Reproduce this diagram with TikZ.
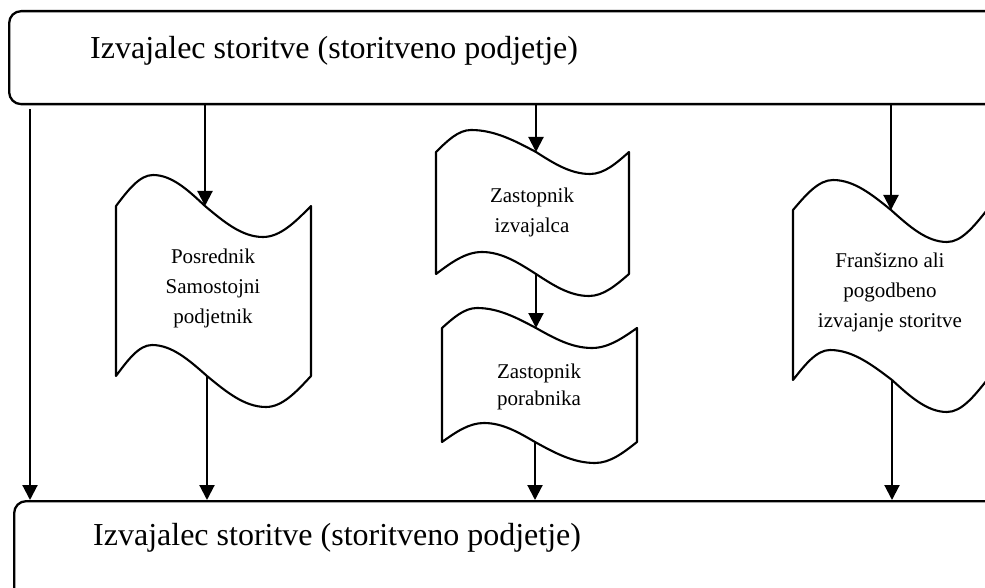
\documentclass[tikz,border=0pt]{standalone}
\usepackage{fontspec}
\setmainfont{Liberation Serif}
\usetikzlibrary{arrows.meta}
\tikzset{
  line/.style={line width=2.1pt, line join=round},
  arr/.style={line width=2.1pt, -{Triangle[length=15pt,width=15pt]}},
  bigbox/.style={draw, line width=2.3pt, rounded corners=12pt, inner sep=0pt, anchor=north west},
  bigtext/.style={font=\fontsize{32}{36}\selectfont, anchor=base west, inner sep=0pt},
  smalltext/.style={font=\fontsize{21}{30}\selectfont, align=center, inner sep=0pt},
}
\begin{document}
\begin{tikzpicture}[x=1pt,y=-1pt]
\path[use as bounding box] (0,0) rectangle (985,588);
\clip (0,0) rectangle (985,588);
\fill[white] (0,0) rectangle (985,588);

% big boxes
\node[bigbox, minimum width=1010pt, minimum height=93pt] (top) at (8,10) {};
\node[bigtext] (toptext) at (90,59) {Izvajalec storitve (storitveno podjetje)};
\node[bigbox, minimum width=1010pt, minimum height=120pt] (bot) at (13,500) {};
\node[bigtext] (bottext) at (93,545) {Izvajalec storitve (storitveno podjetje)};

% wave shape 1
\draw[line] (116,206) sin (153,175) cos (205,206) sin (263,237) cos (311,206)
  -- (311,376) sin (266,407) cos (207,376) sin (152,345) cos (116,376) -- cycle;
\coordinate (m1t) at (205,206);
\coordinate (m1b) at (207,376);
\node[smalltext] (s1) at (213,288) {Posrednik\\Samostojni\\podjetnik};

% wave shape 2
\draw[line] (436,152) sin (471,130) cos (536,152) sin (590,174) cos (629,152)
  -- (629,274) sin (589,296) cos (536,274) sin (482,252) cos (436,274) -- cycle;
\coordinate (m2t) at (536,152);
\coordinate (m2b) at (536,274);
\node[smalltext] (s2) at (532,212) {Zastopnik\\izvajalca};

% wave shape 3
\draw[line] (442,328) sin (477,308) cos (536,328) sin (592,348) cos (637,328)
  -- (637,442) sin (595,463) cos (535,442) sin (484,423) cos (442,442) -- cycle;
\coordinate (m3t) at (536,328);
\coordinate (m3b) at (535,442);
\node[smalltext, font=\fontsize{21}{27}\selectfont] (s3) at (539,387) {Zastopnik\\porabnika};

% wave shape 4
\draw[line] (793,210) sin (833,180) cos (891,210) sin (947,242) cos (987,210)
  -- (987,380) sin (947,412) cos (892,380) sin (830,350) cos (793,380) -- cycle;
\coordinate (m4t) at (891,210);
\coordinate (m4b) at (892,380);
\node[smalltext] (s4) at (890,292) {Franšizno ali\\pogodbeno\\izvajanje storitve};

% connectors
\coordinate (lx) at (30,0);
\draw[arr] ([yshift=-4pt]top.south -| lx) -- (bot.north -| lx);
\draw[arr] (top.south -| m1t) -- (m1t);
\draw[arr] (top.south -| m2t) -- (m2t);
\draw[arr] (top.south -| m4t) -- (m4t);
\draw[arr] (m2b) -- (m3t);
\draw[arr] (m1b) -- (bot.north -| m1b);
\draw[arr] (m3b) -- (bot.north -| m3b);
\draw[arr] (m4b) -- (bot.north -| m4b);
\end{tikzpicture}
\end{document}
